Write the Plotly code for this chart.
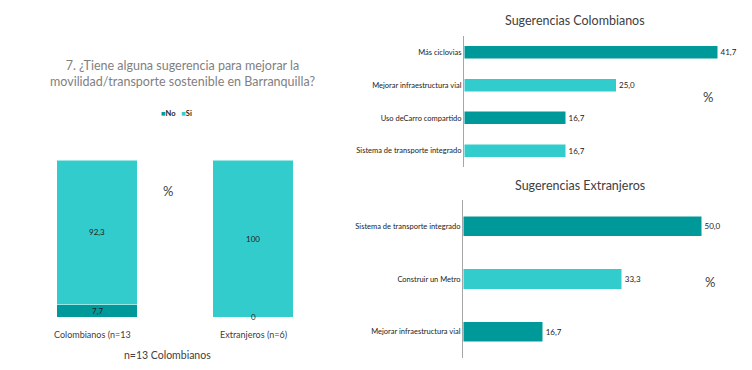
import plotly.graph_objects as go

W, H = 752, 370
DARK = "#009999"
LIGHT = "#33CCCC"

# Left stacked chart data
groups = ["Colombianos (n=13", "Extranjeros (n=6)"]
no_vals = [7.7, 0]
si_vals = [92.3, 100]
legend_names = ["No", "Si"]

# Top-right: Sugerencias Colombianos
col_cats = ["Más ciclovias", "Mejorar infraestructura vial", "Uso deCarro compartido",
            "Sistema de transporte integrado"]
col_vals = [41.7, 25.0, 16.7, 16.7]

# Bottom-right: Sugerencias Extranjeros
ext_cats = ["Sistema de transporte integrado", "Construir un Metro", "Mejorar infraestructura vial"]
ext_vals = [50.0, 33.3, 16.7]


def px(x):
    return x / W


def py(y):
    return 1 - y / H


FONT = "Lato"
fig = go.Figure()

# Left stacked bars
fig.add_trace(go.Bar(x=groups, y=no_vals, name=legend_names[0],
                     marker=dict(color=DARK, line=dict(color="white", width=0.5)),
                     width=0.513, xaxis="x", yaxis="y", showlegend=False))
fig.add_trace(go.Bar(x=groups, y=si_vals, name=legend_names[1],
                     marker=dict(color=LIGHT, line=dict(color="white", width=0.5)),
                     width=0.513, xaxis="x", yaxis="y", showlegend=False))

# value labels for stacked bars
for i, (g, n, s) in enumerate(zip(groups, no_vals, si_vals)):
    fig.add_annotation(x=g, y=n / 2, xref="x", yref="y", text=f"{n:g}".replace(".", ","),
                       showarrow=False, font=dict(family=FONT, size=8, color="#222"))
    fig.add_annotation(x=g, y=n + s / 2, xref="x", yref="y", text=f"{s:g}".replace(".", ","),
                       showarrow=False, font=dict(family=FONT, size=8, color="#222"))
    fig.add_annotation(x=g, y=py(342), xref="x", yref="paper", text=g, showarrow=False,
                       xshift=-5 if i == 0 else 0,
                       font=dict(family=FONT, size=9, color="#404040"))

# manual compact legend
legend_text = (f"<span style='color:{DARK}'>■</span><b>{legend_names[0]}</b>   "
               f"<span style='color:{LIGHT}'>■</span><b>{legend_names[1]}</b>")
fig.add_annotation(x=px(159), y=py(113), xref="paper", yref="paper", xanchor="left", yanchor="middle",
                   text=legend_text, showarrow=False, font=dict(family=FONT, size=7.5, color="#222"))

# Right bars
col_colors = [DARK if i % 2 == 0 else LIGHT for i in range(len(col_cats))]
ext_colors = [DARK if i % 2 == 0 else LIGHT for i in range(len(ext_cats))]
fig.add_trace(go.Bar(y=col_cats, x=col_vals, orientation="h", width=0.4,
                     marker=dict(color=col_colors, line=dict(color="white", width=0.5)),
                     text=col_vals, texttemplate="%{x:.1f}", textposition="outside",
                     textfont=dict(family=FONT, size=8, color="#222"),
                     cliponaxis=False, showlegend=False, xaxis="x2", yaxis="y2"))
fig.add_trace(go.Bar(y=ext_cats, x=ext_vals, orientation="h", width=0.38,
                     marker=dict(color=ext_colors, line=dict(color="white", width=0.5)),
                     text=ext_vals, texttemplate="%{x:.1f}", textposition="outside",
                     textfont=dict(family=FONT, size=8, color="#222"),
                     cliponaxis=False, showlegend=False, xaxis="x3", yaxis="y3"))

fig.update_layout(
    width=W, height=H, margin=dict(l=0, r=0, t=0, b=0),
    paper_bgcolor="white", plot_bgcolor="white",
    separators=",.",
    barmode="stack",
    showlegend=False,
    xaxis=dict(domain=[px(19), px(331)], range=[-0.5, 1.5], showticklabels=False,
               showline=False, showgrid=False, zeroline=False, anchor="y"),
    yaxis=dict(domain=[py(317), py(160)], range=[0, 100], showticklabels=False,
               showline=False, showgrid=False, zeroline=False, anchor="x"),
    xaxis2=dict(domain=[px(464), px(745)], range=[0, (745 - 464) / 6.08], visible=False, anchor="y2"),
    yaxis2=dict(domain=[py(167), py(36)], autorange="reversed", showline=True, linecolor="#a6a6a6",
                linewidth=1, ticks="", showgrid=False, anchor="x2",
                tickfont=dict(family=FONT, size=7.5, color="#222")),
    xaxis3=dict(domain=[px(463), px(745)], range=[0, (745 - 463) / 4.77], visible=False, anchor="y3"),
    yaxis3=dict(domain=[py(358), py(200)], autorange="reversed", showline=True, linecolor="#a6a6a6",
                linewidth=1, ticks="", showgrid=False, anchor="x3",
                tickfont=dict(family=FONT, size=7.5, color="#222")),
)

ann = [
    dict(x=px(182), y=py(73), text="7. ¿Tiene alguna sugerencia para mejorar la<br>movilidad/transporte sostenible en Barranquilla?",
         font=dict(family=FONT, size=12.5, color="#7f7f7f")),
    dict(x=px(167), y=py(355), text="n=13 Colombianos", font=dict(family=FONT, size=10.5, color="#404040")),
    dict(x=px(168), y=py(191), text="%", font=dict(family=FONT, size=13, color="#404040")),
    dict(x=px(575), y=py(20), text="Sugerencias Colombianos", font=dict(family=FONT, size=12.5, color="#404040")),
    dict(x=px(708), y=py(97), text="%", font=dict(family=FONT, size=13, color="#404040")),
    dict(x=px(580), y=py(185), text="Sugerencias Extranjeros", font=dict(family=FONT, size=12.5, color="#404040")),
    dict(x=px(710), y=py(282), text="%", font=dict(family=FONT, size=13, color="#404040")),
]
for a in ann:
    fig.add_annotation(xref="paper", yref="paper", showarrow=False, xanchor="center", yanchor="middle", **a)

fig.write_html("out.html", config={"displayModeBar": False},
               post_script="document.body.style.margin='0px';")
